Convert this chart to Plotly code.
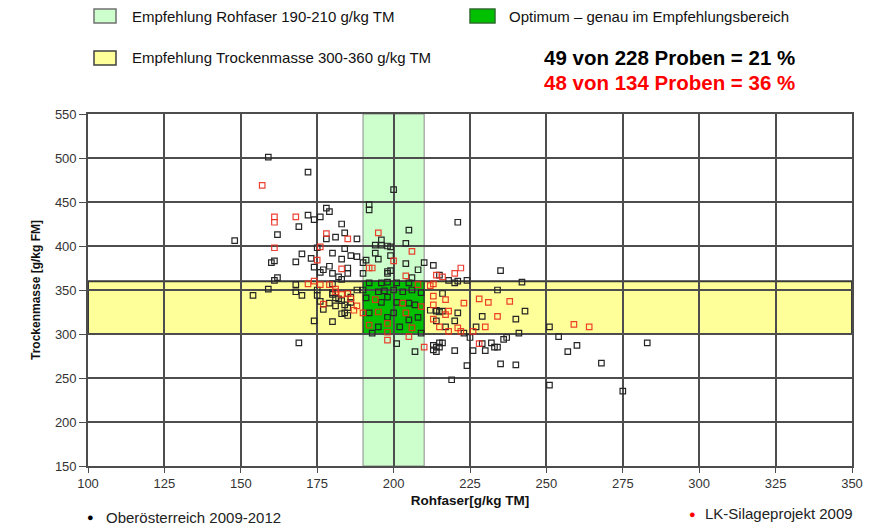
import plotly.graph_objects as go

# ---------------- data ----------------
black_x = [159,172,178,179,176,172,174,183,169,162,148,184,181,188,178,184,180,170,173,168,161,160,174,179,183,186,185,176,182,162,175,
           200,192,192,221,205,196,204,194,196,198,199,194,199,191,195,210,204,213,208,199,198,206,
           161,154,159,168,168,170,180,175,180,181,182,185,186,188,186,179,181,177,184,183,185,174,180,169,
           192,196,198,201,205,190,195,197,200,203,206,209,191,196,198,201,205,207,192,198,200,205,208,195,202,209,193,201,207,213,214,215,214,215,
           235,215,224,221,220,242,234,216,212,214,216,221,229,243,240,214,220,217,223,227,241,251,225,216,215,214,220,226,229,232,233,234,230,236,237,
           224,235,240,219,251,254,260,257,268,283,275,
           185,188,190,190,177,180,183,198,218,213,175,180,183,185,184,176]
black_y = [501,484,443,439,433,435,430,425,422,413,406,415,410,408,408,397,392,391,386,382,383,381,376,377,385,389,375,370,365,364,398,
           464,447,441,427,418,407,403,401,401,400,399,392,389,384,385,381,380,378,373,372,369,364,
           361,344,351,356,348,344,357,350,345,341,340,346,342,350,336,335,332,328,324,323,321,315,314,290,
           358,358,359,358,358,350,348,349,350,348,350,347,341,336,342,336,335,333,324,319,324,316,319,308,308,301,301,289,280,282,285,290,327,325,
           372,367,361,360,358,359,350,346,327,326,326,324,320,326,317,315,315,308,301,308,301,308,296,290,285,280,281,281,289,290,285,285,281,294,296,
           264,266,265,248,242,297,287,280,267,290,235,
           369,388,381,369,373,369,362,371,361,287,344,347,338,330,333,337]

red_x = [157,161,161,168,178,185,161,176,175,183,195,206,200,222,220,214,204,216,172,174,176,179,181,185,188,177,187,
         208,194,203,209,190,195,204,192,198,206,198,198,205,210,213,213,213,217,223,228,231,238,213,218,217,234,215,218,
         221,222,226,230,228,259,264,192,193,212,181,186,183]
red_y = [469,433,427,433,414,408,398,399,384,374,415,394,383,375,369,367,366,365,357,360,356,356,351,346,332,334,327,
         356,339,335,331,324,325,324,310,312,307,302,293,297,285,317,357,343,339,335,340,336,337,333,326,322,320,308,303,
         307,303,303,308,289,311,308,375,375,355,348,340,345]

x_ticks = [100, 125, 150, 175, 200, 225, 250, 275, 300, 325, 350]
y_ticks = [150, 200, 250, 300, 350, 400, 450, 500, 550]
rohfaser_band = [190, 210]
tm_band = [300, 360]

series_names = ["Oberösterreich 2009-2012", "LK-Silageprojekt 2009"]
legend_labels = ["Empfehlung Rohfaser 190-210 g/kg TM",
                 "Optimum – genau im Empfehlungsbereich",
                 "Empfehlung Trockenmasse 300-360 g/kg TM"]
stat_labels = ["49 von 228 Proben = 21 %", "48 von 134 Proben = 36 %"]

# ---------------- layout geometry ----------------
OFF = 8                      # page body margin
W, H = 876 - OFF, 525 - OFF  # figure size
# target plot area in page pixels: x 88..852, y 114..466
L, R, T, B = 88 - OFF, 876 - 852, 114 - OFF, 525 - 466
PW, PH = W - L - R, H - T - B

def px(xp):   # page pixel -> paper x
    return (xp - OFF - L) / PW

def py(yp):   # page pixel -> paper y
    return (H - B - (yp - OFF)) / PH

FONT = "Liberation Sans, Arial, sans-serif"
GRID = "#4d4d4d"

fig = go.Figure()

fig.add_trace(go.Scatter(
    x=black_x, y=black_y, mode="markers", name=series_names[0],
    marker=dict(symbol="square-open", size=5.5, color="#262626", line=dict(width=1.2)),
    showlegend=False))
fig.add_trace(go.Scatter(
    x=red_x, y=red_y, mode="markers", name=series_names[1],
    marker=dict(symbol="square-open", size=5.5, color="rgba(235,45,30,0.9)", line=dict(width=1.2)),
    showlegend=False))

shapes = [
    dict(type="rect", xref="x", yref="y", x0=rohfaser_band[0], x1=rohfaser_band[1],
         y0=y_ticks[0], y1=y_ticks[-1], fillcolor="#ccffcc",
         line=dict(color="#8a8a8a", width=1), layer="below"),
    dict(type="rect", xref="x", yref="y", x0=x_ticks[0], x1=x_ticks[-1],
         y0=tm_band[0], y1=tm_band[1], fillcolor="#ffff99",
         line=dict(color="#3a3a3a", width=2), layer="below"),
    dict(type="rect", xref="x", yref="y", x0=rohfaser_band[0], x1=rohfaser_band[1],
         y0=tm_band[0], y1=tm_band[1], fillcolor="#00c000",
         line=dict(color="#3a3a3a", width=1.5), layer="below"),
    # legend squares
    dict(type="rect", xref="paper", yref="paper", x0=px(94), x1=px(116), y0=py(23), y1=py(9),
         fillcolor="#ccffcc", line=dict(color="#707070", width=1.5)),
    dict(type="rect", xref="paper", yref="paper", x0=px(470), x1=px(495), y0=py(23), y1=py(9),
         fillcolor="#00c000", line=dict(color="#2f6f2f", width=1.5)),
    dict(type="rect", xref="paper", yref="paper", x0=px(94), x1=px(116), y0=py(65), y1=py(51),
         fillcolor="#ffff99", line=dict(color="#404040", width=1.5)),
]

annotations = [
    dict(x=px(130), y=py(16), text=legend_labels[0], font=dict(family=FONT, size=15, color="#111")),
    dict(x=px(507), y=py(16), text=legend_labels[1], font=dict(family=FONT, size=15, color="#111")),
    dict(x=px(130), y=py(58), text=legend_labels[2], font=dict(family=FONT, size=15, color="#111")),
    dict(x=px(797), y=py(57), text="<b>" + stat_labels[0] + "</b>", xanchor="right",
         font=dict(family=FONT, size=20.5, color="#000")),
    dict(x=px(797), y=py(82), text="<b>" + stat_labels[1] + "</b>", xanchor="right",
         font=dict(family=FONT, size=20.5, color="#ff0000")),
    dict(x=px(85), y=py(517), text="●", font=dict(family=FONT, size=11, color="#000")),
    dict(x=px(104), y=py(517), text=series_names[0], font=dict(family=FONT, size=15, color="#222")),
    dict(x=px(687), y=py(514), text="●", font=dict(family=FONT, size=11, color="#ff0000")),
    dict(x=px(703), y=py(514), text=series_names[1], font=dict(family=FONT, size=15, color="#222")),
]
for a in annotations:
    a.setdefault("xanchor", "left")
    a.update(xref="paper", yref="paper", yanchor="middle", showarrow=False)

fig.update_layout(
    width=W, height=H,
    margin=dict(l=L, r=R, t=T, b=B, pad=0, autoexpand=False),
    paper_bgcolor="white", plot_bgcolor="white",
    shapes=shapes, annotations=annotations,
    showlegend=False,
    xaxis=dict(range=[x_ticks[0], x_ticks[-1]], tickvals=x_ticks, ticktext=[str(v) for v in x_ticks],
               showgrid=True, gridcolor=GRID, gridwidth=1.6,
               showline=True, linecolor=GRID, linewidth=1.6, mirror=True,
               ticks="outside", ticklen=5, tickcolor=GRID, zeroline=False,
               tickfont=dict(family=FONT, size=13, color="#333"),
               title=dict(text="<b>Rohfaser[g/kg TM]</b>", standoff=5,
                          font=dict(family=FONT, size=13.5, color="#111"))),
    yaxis=dict(range=[y_ticks[0], y_ticks[-1]], tickvals=y_ticks, ticktext=[str(v) for v in y_ticks],
               showgrid=True, gridcolor=GRID, gridwidth=1.6,
               showline=True, linecolor=GRID, linewidth=1.6, mirror=True,
               ticks="outside", ticklen=7, tickcolor=GRID, zeroline=False,
               tickfont=dict(family=FONT, size=13, color="#333"),
               title=dict(text="<b>Trockenmasse [g/kg FM]</b>", standoff=12,
                          font=dict(family=FONT, size=12, color="#111"))),
)
fig.update_xaxes(tickprefix="<b>", ticksuffix="</b>")
fig.update_yaxes(tickprefix="<b>", ticksuffix="</b>")

fig.write_html("out.html")
